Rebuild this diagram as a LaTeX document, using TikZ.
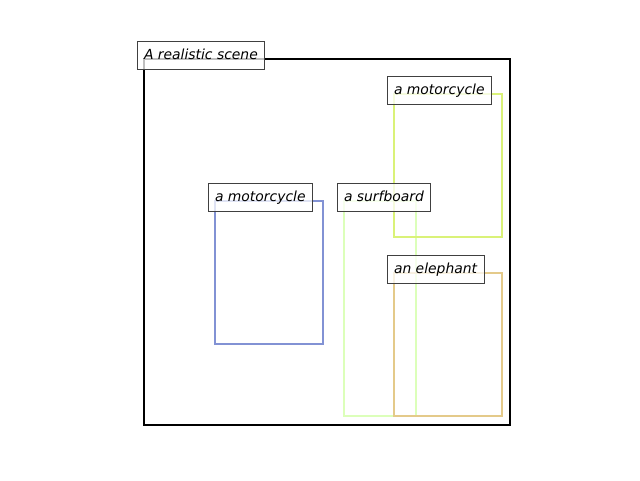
\documentclass[tikz,border=0pt]{standalone}
\usepackage{fontspec}
\setmainfont{DejaVu Sans}
\tikzset{
  tag/.style={draw=black!75, line width=1pt, fill=white, fill opacity=0.75, text opacity=1,
    anchor=text, inner sep=7pt, text height=10.6pt, text depth=3.3pt,
    font=\fontsize{13.9}{16}\selectfont\itshape},
  bbox/.style={line width=2.4pt}
}
\definecolor{motoblue}{RGB}{130,146,212}
\definecolor{motolime}{RGB}{218,242,120}
\definecolor{surfgreen}{RGB}{220,255,186}
\definecolor{eletan}{RGB}{228,202,138}
\begin{document}
\begin{tikzpicture}[x=1pt,y=-1pt]
		\useasboundingbox (0,0) rectangle (640,480);
		% Szene
		\draw[line width=2.2pt, line join=miter] (144,59) rectangle (510,425);
		% Boxen
		\begin{scope}
			\draw[bbox, motoblue] (215,201) rectangle ++(108,143);
			\draw[bbox, surfgreen] (344,201) rectangle ++(72,215);
			\draw[bbox, motolime] (394,94) rectangle ++(108,143);
			\draw[bbox, eletan] (394,273) rectangle ++(108,143);
		\end{scope}
		% Beschriftungen
		\node[tag] (scene) at (144,59) {A realistic scene};
		\node[tag] (moto1) at (215,201) {a motorcycle};
		\node[tag] (surf) at (344,201) {a surfboard};
		\node[tag] (moto2) at (394,94) {a motorcycle};
		\node[tag] (ele) at (394,273) {an elephant};
	\end{tikzpicture}
\end{document}
